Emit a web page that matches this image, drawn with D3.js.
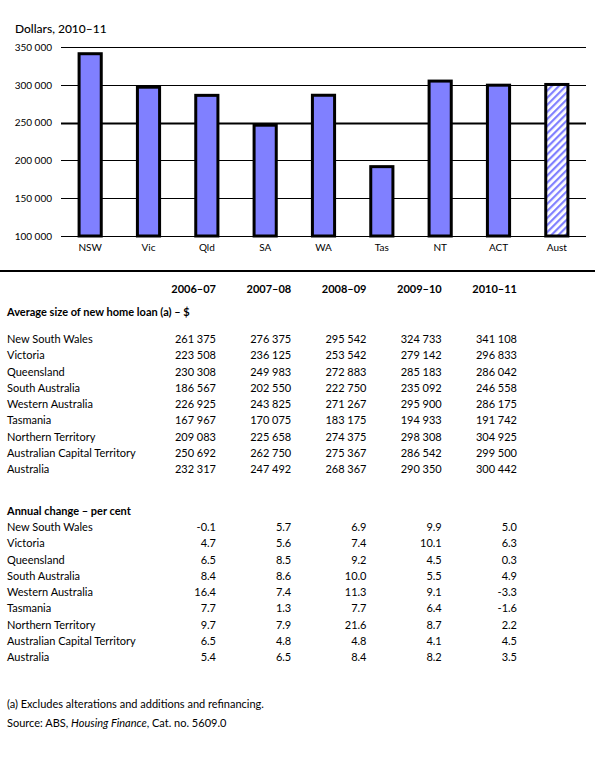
<!DOCTYPE html>
<html>
<head>
<meta charset="utf-8">
<script src="https://cdn.jsdelivr.net/npm/d3@7/dist/d3.min.js"></script>
<style>
  html, body { margin: 0; padding: 0; background: #fff; }
  svg { display: block; font-family: Lato, "Open Sans", sans-serif; }
</style>
</head>
<body>
<svg id="chart" width="595" height="764"></svg>
<script>
var states = ["NSW", "Vic", "Qld", "SA", "WA", "Tas", "NT", "ACT", "Aust"];
var regions = ["New South Wales", "Victoria", "Queensland", "South Australia", "Western Australia",
  "Tasmania", "Northern Territory", "Australian Capital Territory", "Australia"];
var years = ["2006–07", "2007–08", "2008–09", "2009–10", "2010–11"];
var yTicks = [100000, 150000, 200000, 250000, 300000, 350000];

var loan0607 = [261375, 223508, 230308, 186567, 226925, 167967, 209083, 250692, 232317];
var loan0708 = [276375, 236125, 249983, 202550, 243825, 170075, 225658, 262750, 247492];
var loan0809 = [295542, 253542, 272883, 222750, 271267, 183175, 274375, 275367, 268367];
var loan0910 = [324733, 279142, 285183, 235092, 295900, 194933, 298308, 286542, 290350];
var loan1011 = [341108, 296833, 286042, 246558, 286175, 191742, 304925, 299500, 300442];

var change0607 = [-0.1, 4.7, 6.5, 8.4, 16.4, 7.7, 9.7, 6.5, 5.4];
var change0708 = [5.7, 5.6, 8.5, 8.6, 7.4, 1.3, 7.9, 4.8, 6.5];
var change0809 = [6.9, 7.4, 9.2, 10.0, 11.3, 7.7, 21.6, 4.8, 8.4];
var change0910 = [9.9, 10.1, 4.5, 5.5, 9.1, 6.4, 8.7, 4.1, 8.2];
var change1011 = [5.0, 6.3, 0.3, 4.9, -3.3, -1.6, 2.2, 4.5, 3.5];

var loanCols = [loan0607, loan0708, loan0809, loan0910, loan1011];
var changeCols = [change0607, change0708, change0809, change0910, change1011];

var svg = d3.select("#chart"),
  fontSize = 11,
  barFill = "#8080ff",
  fmtNum = function(v) { return d3.format(",")(v).replace(/,/g, "\u00a0"); },
  fmtPct = function(v) { return v.toFixed(1); };

// hatching for the Australia bar
var defs = svg.append("defs");
defs.append("pattern")
  .attr("id", "hatch")
  .attr("patternUnits", "userSpaceOnUse")
  .attr("width", 5)
  .attr("height", 5)
  .attr("patternTransform", "rotate(45)")
  .call(function(p) {
    p.append("rect").attr("width", 5).attr("height", 5).attr("fill", "#fff");
    p.append("rect").attr("width", 2.2).attr("height", 5).attr("fill", barFill);
  });

// ---- bar chart ----
var x = d3.scaleBand()
  .domain(states)
  .range([61, 586])
  .paddingInner(0.62)
  .paddingOuter(0.31);

var y = d3.scaleLinear()
  .domain([100000, 350000])
  .range([236, 47]);

svg.append("text")
  .attr("x", 15)
  .attr("y", 33)
  .attr("font-size", 12)
  .attr("font-weight", 500)
  .text("Dollars, 2010–11");

var grid = svg.append("g").attr("class", "grid");
grid.selectAll("line")
  .data(yTicks)
  .enter()
  .append("line")
  .attr("x1", 61)
  .attr("x2", 586)
  .attr("y1", function(d) { return Math.round(y(d)) + 0.5; })
  .attr("y2", function(d) { return Math.round(y(d)) + 0.5; })
  .attr("stroke", "#000")
  .attr("stroke-width", function(d) { return d === 250000 ? 2.2 : 1; });

var yAxis = svg.append("g")
  .attr("transform", "translate(52,0)")
  .call(d3.axisLeft(y).tickValues(yTicks).tickSize(0).tickPadding(0).tickFormat(fmtNum));
yAxis.select(".domain").remove();
yAxis.selectAll("text")
  .attr("font-family", "Lato, sans-serif")
  .attr("font-size", 10)
  .attr("fill", "#000");

svg.append("g")
  .selectAll("rect")
  .data(loan1011)
  .enter()
  .append("rect")
  .attr("x", function(d, i) { return x(states[i]); })
  .attr("width", x.bandwidth())
  .attr("y", function(d) { return y(d); })
  .attr("height", function(d) { return y(100000) - y(d); })
  .attr("fill", function(d, i) { return states[i] === "Aust" ? "url(#hatch)" : barFill; })
  .attr("stroke", "#000")
  .attr("stroke-width", 3);

var xAxis = svg.append("g")
  .attr("transform", "translate(0,244)")
  .call(d3.axisBottom(x).tickSize(0).tickPadding(0));
xAxis.select(".domain").remove();
xAxis.selectAll("text")
  .attr("font-family", "Lato, sans-serif")
  .attr("font-size", 10)
  .attr("fill", "#000");

// ---- table ----
svg.append("line")
  .attr("x1", 0).attr("x2", 595)
  .attr("y1", 271).attr("y2", 271)
  .attr("stroke", "#000")
  .attr("stroke-width", 2);

var colX = d3.scaleLinear().domain([0, 4]).range([216, 517]);

var table = svg.append("g").attr("font-size", fontSize).attr("fill", "#000");

table.selectAll(".yearHead")
  .data(years)
  .enter()
  .append("text")
  .attr("class", "yearHead")
  .attr("x", function(d, i) { return colX(i); })
  .attr("y", 293)
  .attr("text-anchor", "end")
  .attr("font-weight", "bold")
  .text(function(d) { return d; });

function section(title, titleY, firstRowY, cols, fmt) {
  var rowY = d3.scaleLinear().domain([0, 8]).range([firstRowY, firstRowY + 8 * 16.25]);

  table.append("text")
    .attr("x", 7)
    .attr("y", titleY)
    .attr("font-weight", "bold")
    .text(title);

  var rows = table.append("g")
    .selectAll("g")
    .data(regions)
    .enter()
    .append("g")
    .attr("transform", function(d, i) { return "translate(0," + rowY(i) + ")"; });

  rows.append("text")
    .attr("x", 7)
    .text(function(d) { return d; });

  rows.each(function(d, r) {
    d3.select(this).selectAll(".num")
      .data(cols)
      .enter()
      .append("text")
      .attr("class", "num")
      .attr("x", function(c, i) { return colX(i); })
      .attr("text-anchor", "end")
      .text(function(c) { return fmt(c[r]); });
  });
}

section("Average size of new home loan (a) – $", 316, 343, loanCols, fmtNum);
section("Annual change – per cent", 515, 531, changeCols, fmtPct);

svg.append("text")
  .attr("x", 7).attr("y", 708)
  .attr("font-size", fontSize)
  .text("(a) Excludes alterations and additions and refinancing.");

svg.append("text")
  .attr("x", 7).attr("y", 727)
  .attr("font-size", fontSize)
  .call(function(t) {
    t.append("tspan").text("Source: ABS, ");
    t.append("tspan").attr("font-style", "italic").text("Housing Finance");
    t.append("tspan").text(", Cat. no. 5609.0");
  });
</script>
</body>
</html>
